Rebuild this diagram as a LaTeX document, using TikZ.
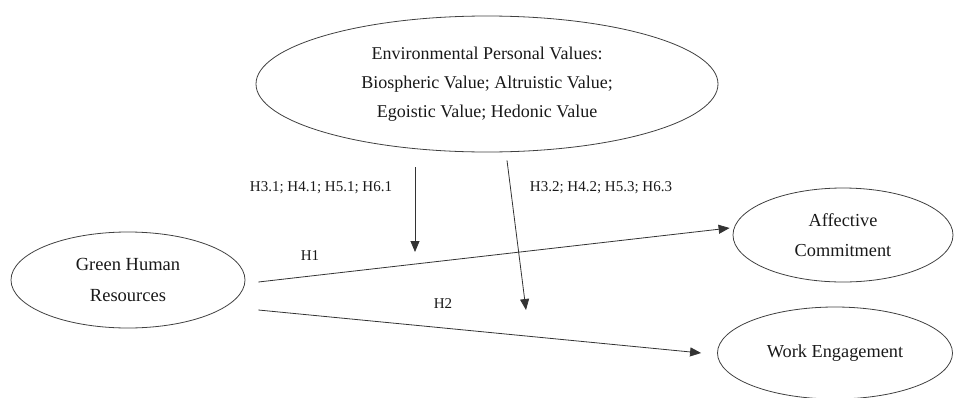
\documentclass[tikz,border=0pt]{standalone}
\usepackage{fontspec}
\setmainfont{Liberation Serif}
\usetikzlibrary{shapes.geometric,arrows.meta}
\begin{document}
\begin{tikzpicture}[x=1pt,y=1pt,
  oval/.style={ellipse,draw=black!75,line width=0.8pt,inner sep=0pt,align=center,text=black!90},
  bigtext/.style={font=\fontsize{18}{29}\selectfont},
  lbl/.style={font=\fontsize{15}{18}\selectfont,text=black!90,inner sep=0pt},
  conn/.style={draw=black!80,line width=0.8pt,-{Triangle[length=11pt,width=9pt]}}]
\useasboundingbox (0,0) rectangle (954,-397);
\clip (0,0) rectangle (954,-397);
\node[oval,bigtext,minimum width=462pt,minimum height=136pt] (epv) at (487,-84)
  {Environmental Personal Values:\\Biospheric Value; Altruistic Value;\\Egoistic Value; Hedonic Value};
\node[oval,font=\fontsize{18.5}{31}\selectfont,minimum width=234pt,minimum height=96pt] (ghr) at (128,-280)
  {Green Human\\Resources};
\node[oval,font=\fontsize{18.3}{30}\selectfont,minimum width=220pt,minimum height=94pt] (ac) at (843,-235)
  {Affective\\Commitment};
\node[oval,font=\fontsize{18.3}{30}\selectfont,minimum width=235pt,minimum height=92pt] (we) at (835,-353)
  {Work Engagement};
\coordinate (v1e) at (415,-252);
\coordinate (v2e) at (526,-310);
\draw[conn] ([shift={(13,-2)}]ghr.east) -- ([shift={(-3,7)}]ac.west);
\draw[conn] ([shift={(13,-30)}]ghr.east) -- ([shift={(-16,0)}]we.west);
\draw[conn] ([shift={(-72,-15)}]epv.south) -- (v1e);
\draw[conn] ([shift={(20,-8)}]epv.south) -- (v2e);
\node[lbl] (l1) at (321,-188) {H3.1; H4.1; H5.1; H6.1};
\node[lbl] (l2) at (601,-188) {H3.2; H4.2; H5.3; H6.3};
\node[lbl] (h1) at (310,-256) {H1};
\node[lbl] (h2) at (443,-304) {H2};
\end{tikzpicture}
\end{document}
